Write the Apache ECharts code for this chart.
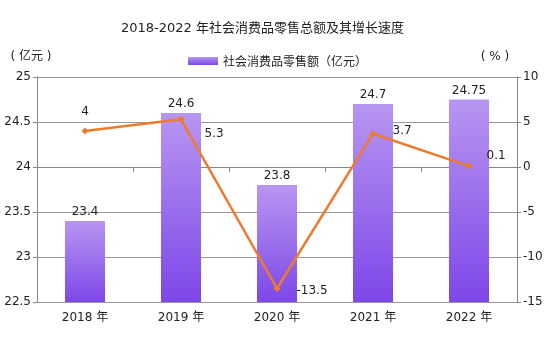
<!DOCTYPE html>
<html><head><meta charset="utf-8">
<script src="https://cdn.jsdelivr.net/npm/echarts@6/dist/echarts.min.js"></script>
<style>html,body{margin:0;padding:0;background:#fff}#c{width:553px;height:343px}</style>
</head><body><div id="c"></div>
<script>
const categories = ['2018 年', '2019 年', '2020 年', '2021 年', '2022 年'];
const retailValues = [23.4, 24.6, 23.8, 24.7, 24.75];
const growthValues = [4, 5.3, -13.5, 3.7, 0.1];

const labelLayout = [
  { position: 'top', offset: [0, -2] },
  { position: 'right', offset: [12, 15] },
  { position: 'right', offset: [8, 2] },
  { position: 'right', offset: [8, -3] },
  { position: 'right', offset: [6, -10] }
];

const font = '"DejaVu Sans", "Noto Sans CJK SC", sans-serif';
const cjk = '"Noto Sans CJK SC", sans-serif';
const chart = echarts.init(document.getElementById('c'));
chart.setOption({
  animation: false,
  textStyle: { fontFamily: font },
  title: {
    text: '2018-2022 年社会消费品零售总额及其增长速度',
    left: 116, top: 17,
    textStyle: { fontSize: 13, fontWeight: 'normal', color: '#222', fontFamily: font }
  },
  legend: {
    data: [{ name: '社会消费品零售额（亿元）', icon: 'rect' }],
    top: 50, left: 183,
    itemWidth: 30, itemHeight: 8, itemGap: 3,
    textStyle: { fontSize: 12, color: '#222', fontFamily: cjk }
  },
  grid: { left: 37, right: 36, top: 77, bottom: 41 },
  xAxis: {
    type: 'category', data: categories,
    axisLine: { lineStyle: { color: '#888' } },
    axisTick: { show: true, lineStyle: { color: '#888' } },
    axisLabel: { color: '#222', fontSize: 12, margin: 10, fontFamily: font }
  },
  yAxis: [{
    type: 'value', min: 22.5, max: 25, interval: 0.5,
    name: '( 亿元 )', nameLocation: 'end', nameGap: 14,
    nameTextStyle: { color: '#222', fontSize: 12, align: 'center', padding: [0, 12, 0, 0], fontFamily: font },
    axisLine: { show: true, lineStyle: { color: '#888' } },
    axisTick: { show: true, length: 4, lineStyle: { color: '#888' } },
    axisLabel: { color: '#222', fontSize: 12, margin: 6, fontFamily: font },
    splitLine: { lineStyle: { color: '#999' } }
  }, {
    type: 'value', min: -15, max: 10, interval: 5,
    name: '( % )', nameLocation: 'end', nameGap: 14,
    nameTextStyle: { color: '#222', fontSize: 12, align: 'center', padding: [0, 44, 0, 0], fontFamily: font },
    axisLine: { show: true, lineStyle: { color: '#888' } },
    axisTick: { show: true, length: 4, lineStyle: { color: '#888' } },
    axisLabel: { color: '#222', fontSize: 12, margin: 6, fontFamily: font },
    splitLine: { show: false }
  }],
  series: [{
    name: '社会消费品零售额（亿元）', type: 'bar', yAxisIndex: 0,
    data: retailValues, barWidth: 40,
    itemStyle: {
      color: new echarts.graphic.LinearGradient(0, 0, 0, 1, [
        { offset: 0, color: '#B796F1' }, { offset: 1, color: '#7D47E8' }
      ])
    },
    label: { show: true, position: 'top', color: '#222', fontSize: 12, distance: 3, fontFamily: font }
  }, {
    name: '增长速度', type: 'line', yAxisIndex: 1,
    data: growthValues.map((v, i) => ({
      value: v,
      label: labelLayout[i]
    })),
    symbol: 'diamond', symbolSize: 7,
    lineStyle: { color: '#EE7A2E', width: 2.5 },
    itemStyle: { color: '#EE7A2E' },
    label: { show: true, color: '#222', fontSize: 12, distance: 8, fontFamily: font,
      formatter: p => String(p.value) }
  }]
});
</script></body></html>
